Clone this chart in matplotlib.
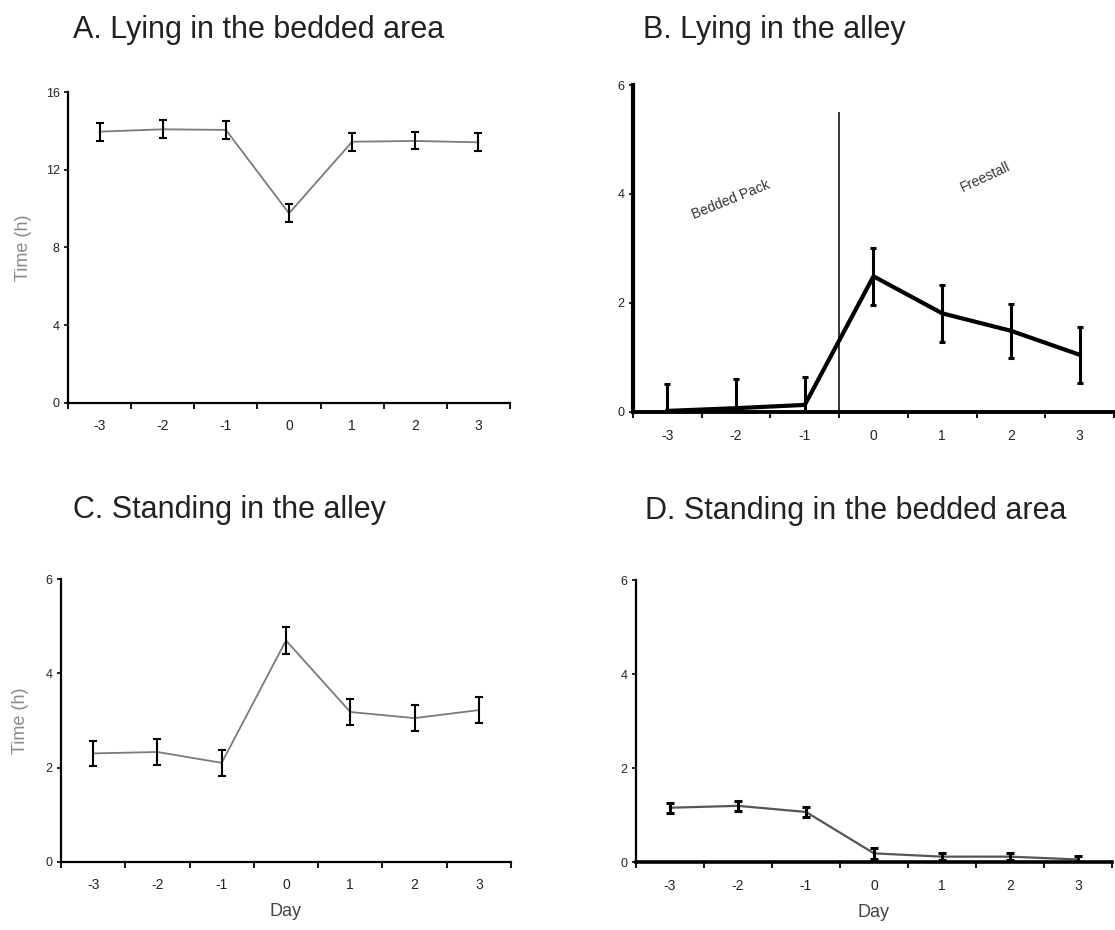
import numpy as np
import matplotlib
matplotlib.use("Agg")
import matplotlib.pyplot as plt

plt.rcParams["font.family"] = ["Liberation Sans", "DejaVu Sans"]

days = [-3, -2, -1, 0, 1, 2, 3]
day_labels = ["-3", "-2", "-1", "0", "1", "2", "3"]

# A. Lying in the bedded area
lying_bed = [13.97, 14.09, 14.06, 9.76, 13.45, 13.49, 13.42]
lying_bed_err = [0.47, 0.47, 0.47, 0.47, 0.47, 0.44, 0.47]

# B. Lying in the alley
lying_alley = [0.02, 0.07, 0.13, 2.49, 1.81, 1.49, 1.05]
lying_alley_err = [0.50, 0.53, 0.51, 0.52, 0.52, 0.50, 0.51]

# C. Standing in the alley
stand_alley = [2.30, 2.33, 2.10, 4.70, 3.18, 3.05, 3.22]
stand_alley_err = [0.26, 0.28, 0.28, 0.28, 0.28, 0.28, 0.27]

# D. Standing in the bedded area
stand_bed = [1.16, 1.20, 1.07, 0.19, 0.12, 0.12, 0.06]
stand_bed_err = [0.11, 0.11, 0.10, 0.12, 0.07, 0.07, 0.08]

titles = ["A. Lying in the bedded area", "B. Lying in the alley",
          "C. Standing in the alley", "D. Standing in the bedded area"]

TXT = "#222222"
GRAY = "#8a8a8a"


def style_axes(ax, ymax, ystep, lw_left, lw_bottom, xright=3.5):
    ax.set_xlim(-3.5, xright)
    ax.set_ylim(0, ymax)
    for s in ["top", "right"]:
        ax.spines[s].set_visible(False)
    ax.spines["left"].set_linewidth(lw_left)
    ax.spines["bottom"].set_linewidth(lw_bottom)
    ax.set_yticks(np.arange(0, ymax + 0.1, ystep))
    ax.tick_params(axis="y", length=3, width=1.2, pad=3, labelsize=9, labelcolor=TXT)
    # boundaries get tick marks, categories get the labels
    ax.set_xticks(np.arange(-3.5, 3.6, 1.0))
    ax.set_xticklabels([])
    ax.set_xticks(days, minor=True)
    ax.set_xticklabels(day_labels, minor=True)
    ax.tick_params(axis="x", which="major", length=4, width=1.3, direction="out")
    ax.tick_params(axis="x", which="minor", length=0, pad=12, labelsize=10, labelcolor=TXT)


fig = plt.figure(figsize=(11.15, 9.3), dpi=100)

axA = fig.add_axes([0.0610, 0.5670, 0.3964, 0.3338])
axB = fig.add_axes([0.5677, 0.5570, 0.4314, 0.3516])
axC = fig.add_axes([0.0547, 0.0735, 0.4036, 0.3036])
axD = fig.add_axes([0.5704, 0.0728, 0.4269, 0.3035])

# A
axA.plot(days, lying_bed, color="#7a7a7a", lw=1.3, zorder=2)
axA.errorbar(days, lying_bed, yerr=lying_bed_err, fmt="none", ecolor="black",
             elinewidth=1.5, capsize=3, capthick=1.5, zorder=3)
style_axes(axA, 16, 4, 1.6, 1.6)
axA.set_ylabel("Time (h)", color=GRAY, fontsize=13, labelpad=10)

# B
axB.plot(days, lying_alley, color="black", lw=3.0, zorder=3, solid_joinstyle="miter")
axB.errorbar(days, lying_alley, yerr=lying_alley_err, fmt="none", ecolor="black",
             elinewidth=2.2, capsize=2.5, capthick=2.2, zorder=3)
style_axes(axB, 6, 2, 3.0, 2.8)
axB.vlines(-0.5, 0, 5.5, color="black", lw=1.1)
axB.text(-2.08, 3.89, "Bedded Pack", rotation=22, ha="center", va="center",
         fontsize=10, color="#333333")
axB.text(1.63, 4.31, "Freestall", rotation=25, ha="center", va="center",
         fontsize=10, color="#333333")

# C
axC.plot(days, stand_alley, color="#7a7a7a", lw=1.3, zorder=2)
axC.errorbar(days, stand_alley, yerr=stand_alley_err, fmt="none", ecolor="black",
             elinewidth=1.5, capsize=3, capthick=1.5, zorder=3)
style_axes(axC, 6, 2, 1.6, 1.6)
axC.set_ylabel("Time (h)", color=GRAY, fontsize=13, labelpad=12)
axC.set_xlabel("Day", color="#444444", fontsize=13, labelpad=8)

# D
axD.plot(days, stand_bed, color="#555555", lw=1.6, zorder=2)
axD.errorbar(days, stand_bed, yerr=stand_bed_err, fmt="none", ecolor="black",
             elinewidth=2.2, capsize=3, capthick=2.2, zorder=3)
style_axes(axD, 6, 2, 1.6, 2.6)
axD.set_xlabel("Day", color="#444444", fontsize=13, labelpad=8)

for ax in [axA, axB, axC, axD]:
    for sp in ax.spines.values():
        sp.set_zorder(4)

# panel titles
fig.text(73 / 1115, 1 - 38 / 930, titles[0], fontsize=22, color=TXT, va="baseline")
fig.text(643 / 1115, 1 - 38 / 930, titles[1], fontsize=22, color=TXT, va="baseline")
fig.text(73 / 1115, 1 - 518 / 930, titles[2], fontsize=22, color=TXT, va="baseline")
fig.text(645 / 1115, 1 - 519 / 930, titles[3], fontsize=22, color=TXT, va="baseline")

fig.savefig("out.png", dpi=100, facecolor="white")
